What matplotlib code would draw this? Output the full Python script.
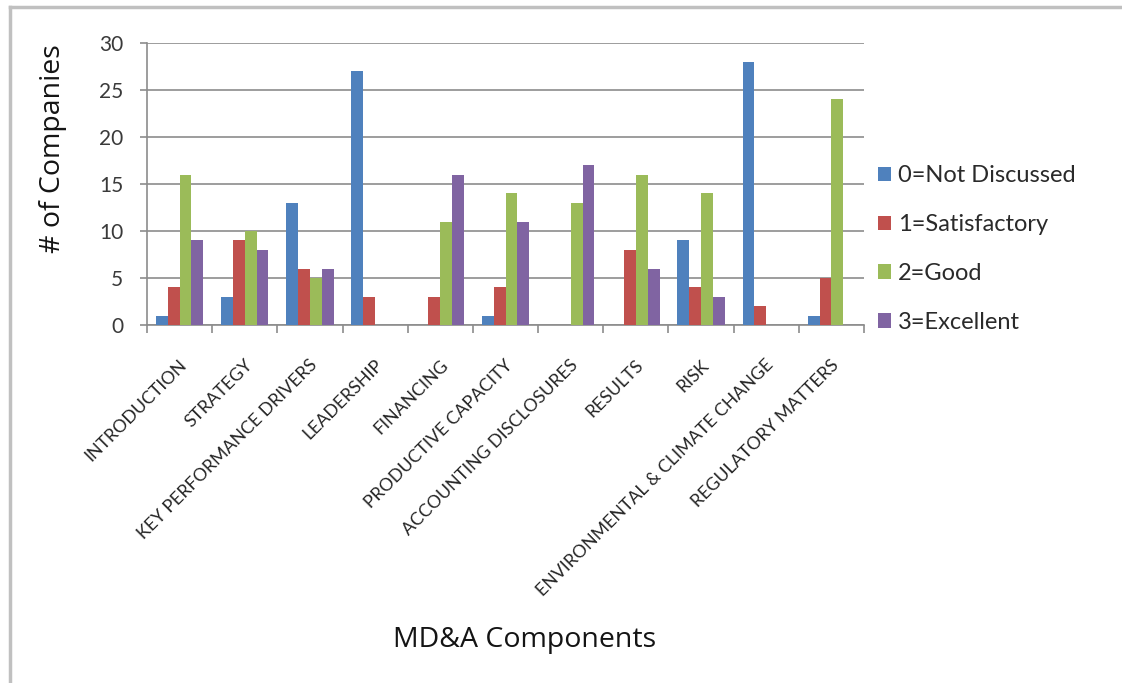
import matplotlib
matplotlib.use("Agg")
import matplotlib.pyplot as plt
import matplotlib.transforms as mtransforms
from matplotlib.lines import Line2D
import numpy as np

# MD&A component scores across the surveyed companies
components = [
    "INTRODUCTION", "STRATEGY", "KEY PERFORMANCE DRIVERS", "LEADERSHIP",
    "FINANCING", "PRODUCTIVE CAPACITY", "ACCOUNTING DISCLOSURES", "RESULTS",
    "RISK", "ENVIRONMENTAL & CLIMATE CHANGE", "REGULATORY MATTERS",
]
series_names = ["0=Not Discussed", "1=Satisfactory", "2=Good", "3=Excellent"]
not_discussed = [1, 3, 13, 27, 0, 1, 0, 0, 9, 28, 1]
satisfactory = [4, 9, 6, 3, 3, 4, 0, 8, 4, 2, 5]
good = [16, 10, 5, 0, 11, 14, 13, 16, 14, 0, 24]
excellent = [9, 8, 6, 0, 16, 11, 17, 6, 3, 0, 0]
y_ticks = [0, 5, 10, 15, 20, 25, 30]

colors = ["#4F81BD", "#C0504D", "#9BBB59", "#8064A2"]
series = [not_discussed, satisfactory, good, excellent]

W, H = 1122, 683
fig = plt.figure(figsize=(W / 100, H / 100), dpi=100)
fig.patch.set_facecolor("white")

ax = fig.add_axes([147 / W, 1 - 325 / H, (864 - 147) / W, (325 - 43) / H])

x = np.arange(len(components))
bar_w = 1 / 5.5
offsets = (np.arange(4) - 1.5) * bar_w
for vals, off, col, name in zip(series, offsets, colors, series_names):
    ax.bar(x + off, vals, width=bar_w, color=col, label=name, zorder=3,
           linewidth=0)

ax.set_xlim(-0.5, len(components) - 0.5)
ax.set_ylim(0, 30)

grid_col = "#8c8c8c"
ax.set_yticks(y_ticks)
ax.yaxis.grid(True, color=grid_col, linewidth=1.2, zorder=0)
ax.set_axisbelow(True)
for side in ["top", "right"]:
    ax.spines[side].set_visible(False)
ax.spines["left"].set_color(grid_col)
ax.spines["bottom"].set_color(grid_col)
ax.spines["left"].set_linewidth(1.2)
ax.spines["bottom"].set_linewidth(1.2)

excel_font = "Lato"
ax.tick_params(axis="y", direction="out", length=5, width=1.2, color=grid_col,
               pad=12, labelsize=15, labelcolor="#3a3a3a")
for lbl in ax.get_yticklabels():
    lbl.set_fontfamily(excel_font)

# category labels at the centres, tick marks at the boundaries
ax.set_xticks(x)
ax.set_xticklabels(components, rotation=45, ha="right", va="center",
                   rotation_mode="anchor", fontsize=12.8, color="#262626",
                   fontfamily=excel_font)
ax.tick_params(axis="x", which="major", length=0, pad=27)
ax.set_xticks(np.arange(len(components) + 1) - 0.5, minor=True)
ax.tick_params(axis="x", which="minor", direction="out", length=6, width=1.2,
               color=grid_col)
shift = mtransforms.ScaledTranslation(5 / 100, 0, fig.dpi_scale_trans)
for lbl in ax.get_xticklabels():
    lbl.set_transform(lbl.get_transform() + shift)

leg = fig.legend(loc="center left", bbox_to_anchor=(878 / W, 1 - 249 / H),
                 frameon=False, handlelength=0.55,
                 handleheight=0.55, handletextpad=0.3, labelspacing=1.18,
                 borderpad=0, borderaxespad=0,
                 prop={"family": excel_font, "size": 17})
for t in leg.get_texts():
    t.set_color("#2a2a2a")

title_font = "Open Sans"
fig.text(525 / W, 1 - 640 / H, "MD&A Components", ha="center", va="center",
         fontsize=20.5, fontfamily=title_font, color="#141414")
fig.text(53 / W, 1 - 149 / H, "# of Companies", ha="center", va="center",
         rotation=90, fontsize=20.5, fontfamily=title_font, color="#141414")

# page frame along the top and left edges
frame_col = "#c0c0c0"
fig.add_artist(Line2D([10 / W, 1], [1 - 7 / H, 1 - 7 / H],
                      transform=fig.transFigure, color=frame_col, linewidth=2.5))
fig.add_artist(Line2D([10 / W, 10 / W], [0, 1 - 7 / H],
                      transform=fig.transFigure, color=frame_col, linewidth=2.5))

fig.savefig("out.png", dpi=100)
